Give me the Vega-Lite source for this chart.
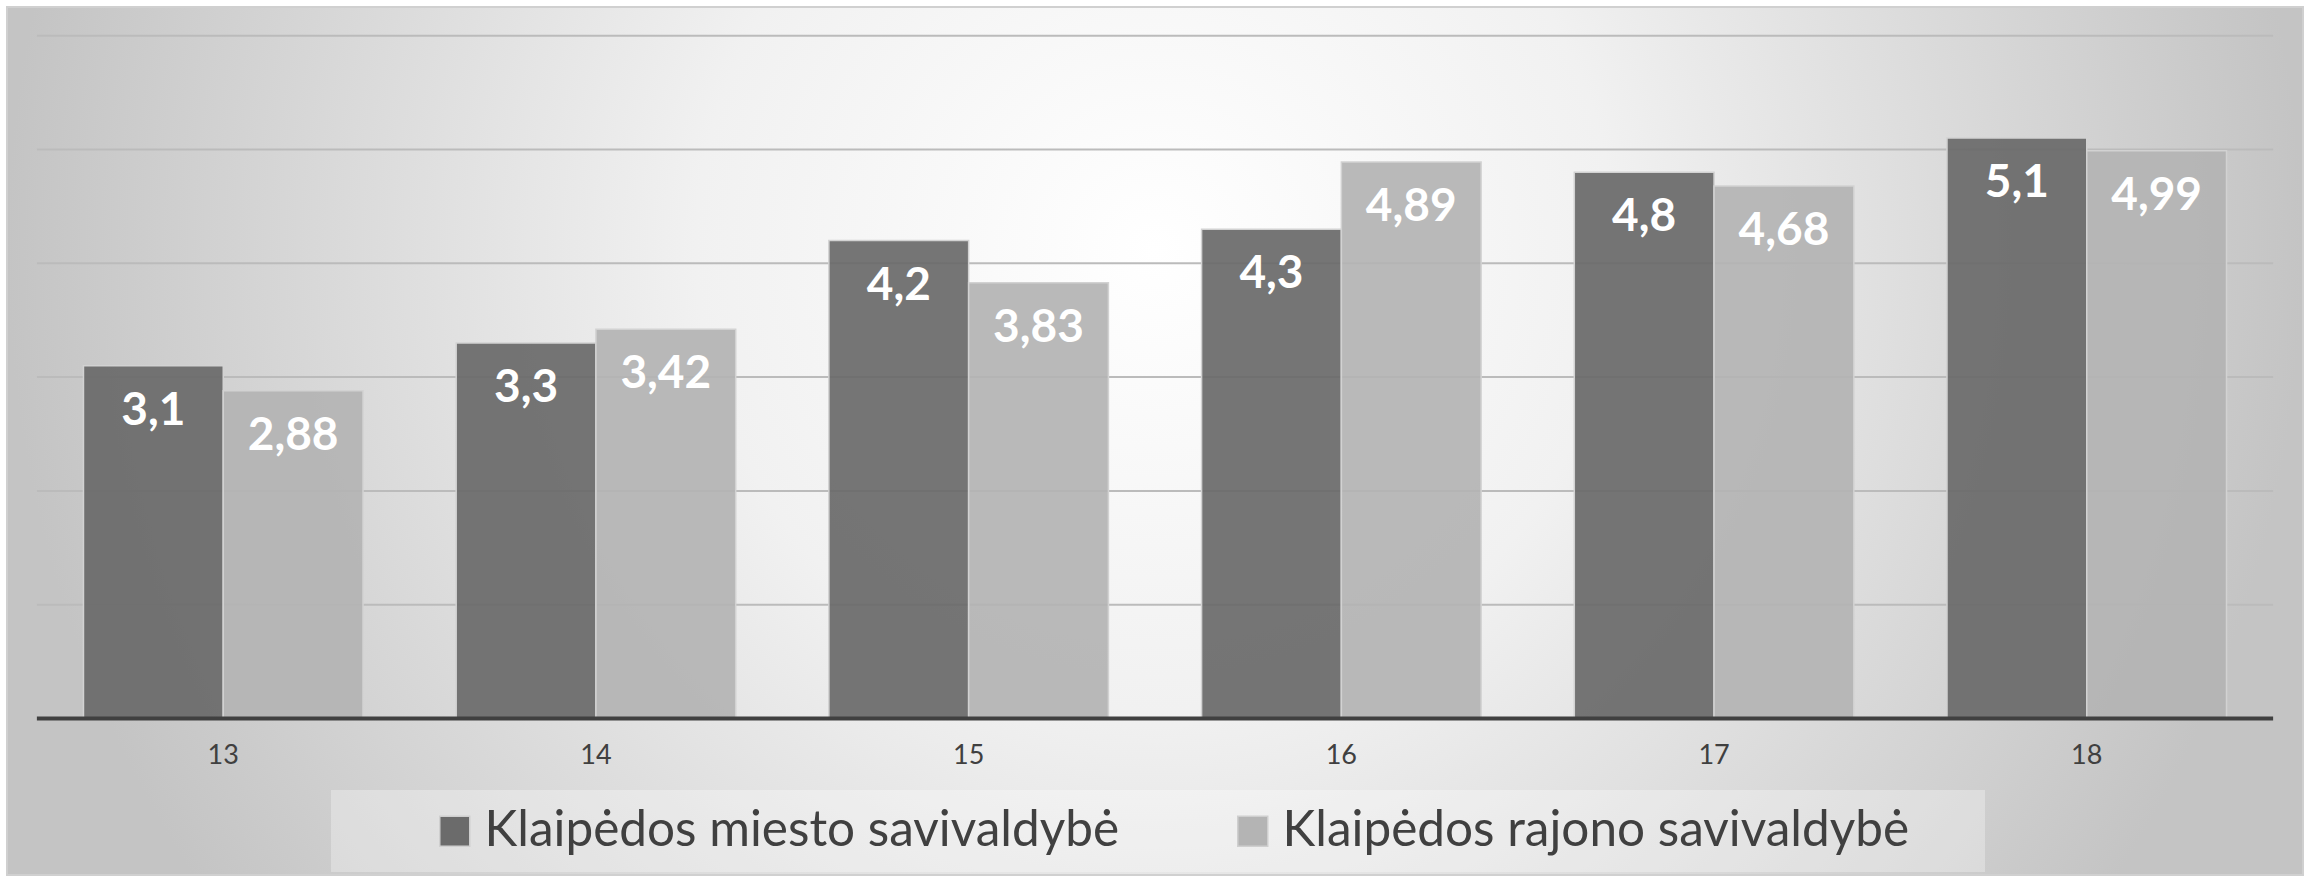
{
  "$schema": "https://vega.github.io/schema/vega-lite/v6.json",
  "width": 2296,
  "height": 868,
  "autosize": {"type": "none"},
  "padding": 7,
  "background": "#ffffff",
  "view": {
    "stroke": "#d0d0d0",
    "strokeWidth": 2,
    "fill": {
      "gradient": "radial",
      "x1": 0.5, "y1": 0.417, "r1": 0,
      "x2": 0.5, "y2": 0.417, "r2": 0.5,
      "stops": [
        {"offset": 0, "color": "#ffffff"},
        {"offset": 0.4, "color": "#f1f1f1"},
        {"offset": 1, "color": "#c4c4c4"}
      ]
    }
  },
  "config": {
    "font": "Lato",
    "locale": {"number": {"decimal": ",", "thousands": " ", "grouping": [3], "currency": ["", " €"]}}
  },
  "data": {
    "values": [
      {"cat": "13", "series": "Klaipėdos miesto savivaldybė", "value": 3.1},
      {"cat": "13", "series": "Klaipėdos rajono savivaldybė", "value": 2.88},
      {"cat": "14", "series": "Klaipėdos miesto savivaldybė", "value": 3.3},
      {"cat": "14", "series": "Klaipėdos rajono savivaldybė", "value": 3.42},
      {"cat": "15", "series": "Klaipėdos miesto savivaldybė", "value": 4.2},
      {"cat": "15", "series": "Klaipėdos rajono savivaldybė", "value": 3.83},
      {"cat": "16", "series": "Klaipėdos miesto savivaldybė", "value": 4.3},
      {"cat": "16", "series": "Klaipėdos rajono savivaldybė", "value": 4.89},
      {"cat": "17", "series": "Klaipėdos miesto savivaldybė", "value": 4.8},
      {"cat": "17", "series": "Klaipėdos rajono savivaldybė", "value": 4.68},
      {"cat": "18", "series": "Klaipėdos miesto savivaldybė", "value": 5.1},
      {"cat": "18", "series": "Klaipėdos rajono savivaldybė", "value": 4.99}
    ]
  },
  "encoding": {
    "x": {
      "field": "cat",
      "type": "nominal",
      "scale": {"paddingInner": 0.25, "paddingOuter": 0.2052},
      "axis": {
        "orient": "bottom",
        "offset": -156.5,
        "domain": false,
        "ticks": false,
        "tickSize": 0,
        "grid": false,
        "title": null,
        "labelAngle": 0,
        "labelPadding": 24,
        "labelFontSize": 27,
        "labelColor": "#404040",
        "labelFont": "Lato"
      }
    }
  },
  "layer": [
    {
      "data": {"values": [{"g": 1}, {"g": 2}, {"g": 3}, {"g": 4}, {"g": 5}, {"g": 6}]},
      "mark": {"type": "rule", "color": "#bbbbbb", "strokeWidth": 2},
      "encoding": {
        "x": {"datum": "13", "type": "nominal", "bandPosition": -0.1667},
        "x2": {"datum": "18", "bandPosition": 1.1667},
        "y": {"field": "g", "type": "quantitative", "scale": {"domain": [-1.3752, 6.2522], "nice": false, "zero": false}, "axis": null}
      }
    },
    {
      "mark": {"type": "bar", "stroke": "#d2d2d2", "strokeWidth": 1.5, "fillOpacity": 0.93},
      "encoding": {
        "xOffset": {"field": "series", "type": "nominal", "scale": {"paddingInner": 0, "paddingOuter": 0}},
        "y": {"field": "value", "type": "quantitative", "scale": {"domain": [-1.3752, 6.2522], "nice": false, "zero": false}, "axis": null},
        "y2": {"datum": 0},
        "color": {
          "field": "series",
          "type": "nominal",
          "scale": {"domain": ["Klaipėdos miesto savivaldybė", "Klaipėdos rajono savivaldybė"], "range": ["#6b6b6b", "#b4b4b4"]},
          "legend": {
            "orient": "none",
            "legendX": 324,
            "legendY": 783,
            "direction": "horizontal",
            "title": " ",
            "titleOrient": "right",
            "titlePadding": 60,
            "titleFontSize": 10,
            "symbolType": "square",
            "symbolSize": 900,
            "symbolOpacity": 1,
            "symbolStrokeColor": "#cfcfcf",
            "symbolStrokeWidth": 1.5,
            "symbolOffset": 83,
            "labelOffset": 5,
            "labelFontSize": 49.5,
            "labelColor": "#404040",
            "labelFont": "Lato",
            "labelLimit": 0,
            "columnPadding": 25,
            "padding": 16,
            "fillColor": "rgba(255,255,255,0.3)"
          }
        }
      }
    },
    {
      "data": {"values": [{"b": 0}]},
      "mark": {"type": "rule", "color": "#404040", "strokeWidth": 4},
      "encoding": {
        "x": {"datum": "13", "type": "nominal", "bandPosition": -0.1667},
        "x2": {"datum": "18", "bandPosition": 1.1667},
        "y": {"field": "b", "type": "quantitative"}
      }
    },
    {
      "mark": {"type": "text", "color": "#ffffff", "fontSize": 46, "fontWeight": "bold", "align": "center", "baseline": "top", "dy": 23, "font": "Lato"},
      "encoding": {
        "xOffset": {"field": "series", "type": "nominal"},
        "y": {"field": "value", "type": "quantitative"},
        "text": {"field": "value", "type": "quantitative", "format": "~g"}
      }
    }
  ]
}
